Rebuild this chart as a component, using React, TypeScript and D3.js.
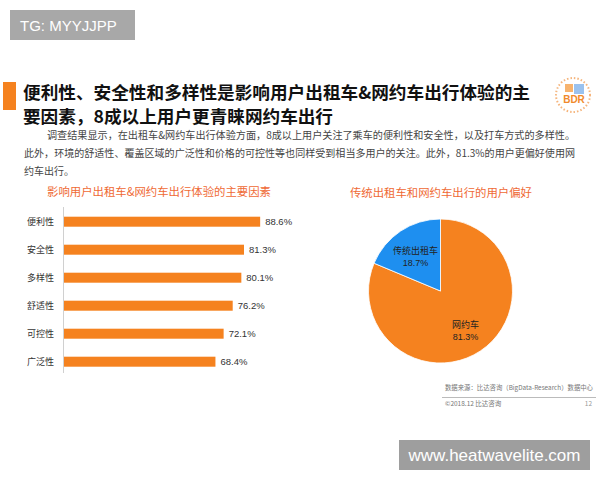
import React from "react";
import * as d3 from "d3";

const barCategories = ["便利性", "安全性", "多样性", "舒适性", "可控性", "广泛性"];
const barValues = [88.6, 81.3, 80.1, 76.2, 72.1, 68.4];
const pieCategories = ["网约车", "传统出租车"];
const pieValues = [81.3, 18.7];

const titleLines = [
  "便利性、安全性和多样性是影响用户出租车&网约车出行体验的主",
  "要因素，8成以上用户更青睐网约车出行",
];
const paraLines = [
  "调查结果显示，在出租车&网约车出行体验方面，8成以上用户关注了乘车的便利性和安全性，以及打车方式的多样性。",
  "此外，环境的舒适性、覆盖区域的广泛性和价格的可控性等也同样受到相当多用户的关注。此外，81.3%的用户更偏好使用网",
  "约车出行。",
];
const barTitle = "影响用户出租车&网约车出行体验的主要因素";
const pieTitle = "传统出租车和网约车出行的用户偏好";

const ORANGE = "#F5821F";
const BLUE = "#1E8FF0";
const TITLE_ORANGE = "#EF6A35";
const FONT = "'Noto Sans CJK SC', 'Noto Sans', sans-serif";

export default function App() {
  const x = d3.scaleLinear().domain([0, 100]).range([64, 285.4]);
  const y = d3.scalePoint<string>().domain(barCategories).range([221.7, 361.7]);
  const barH = 10;

  const pieData = pieCategories.map((c, i) => ({ name: c, value: pieValues[i] }));
  const pie = d3.pie<{ name: string; value: number }>().sort(null).value((d) => d.value);
  const arcs = pie(pieData);
  const arc = d3.arc<d3.PieArcDatum<{ name: string; value: number }>>().innerRadius(0).outerRadius(72);
  const labelArc = d3.arc<d3.PieArcDatum<{ name: string; value: number }>>().innerRadius(45).outerRadius(45);
  const pieColors = [ORANGE, BLUE];
  const cx = 440.5, cy = 291;

  return (
    <svg width={600} height={480} style={{ position: "absolute", left: 0, top: 0, background: "#fff" }} fontFamily={FONT}>
      <rect x={0} y={0} width={600} height={480} fill="#fff" />
      {/* watermark top */}
      <rect x={10} y={10} width={125} height={30} fill="#a8a8a8" />
      <text x={20} y={30.5} fontSize={15} fill="#fff" fontFamily="'Liberation Sans', Arial, sans-serif">TG: MYYJJPP</text>

      {/* title */}
      <rect x={3} y={82} width={13} height={28} fill={ORANGE} />
      <text x={23} y={99} fontSize={17.5} fontWeight="bold" fill="#111" textLength={507} lengthAdjust="spacingAndGlyphs">{titleLines[0]}</text>
      <text x={23} y={122.5} fontSize={17.5} fontWeight="bold" fill="#111" textLength={310} lengthAdjust="spacingAndGlyphs">{titleLines[1]}</text>

      {/* logo */}
      <g>
        <circle cx={573} cy={95} r={17} fill="none" stroke="#F3A35C" strokeWidth={2} strokeDasharray="1.5 2" opacity={0.8} />
        <rect x={565} y={84} width={8} height={8} fill="#F5A04A" opacity={0.8} />
        <rect x={574} y={84} width={10} height={10} fill="#6FA8E8" opacity={0.7} />
        <text x={574} y={103} fontSize={10} fontWeight="bold" fill="#F08A2C" textAnchor="middle" fontFamily="'Liberation Sans', sans-serif">BDR</text>
      </g>

      {/* paragraph */}
      <text x={47} y={139} fontSize={10} fill="#444" textLength={528} lengthAdjust="spacingAndGlyphs">{paraLines[0]}</text>
      <text x={24} y={157} fontSize={10} fill="#444" textLength={551} lengthAdjust="spacingAndGlyphs">{paraLines[1]}</text>
      <text x={24} y={175} fontSize={10} fill="#444">{paraLines[2]}</text>

      {/* bar chart */}
      <text x={47} y={196} fontSize={11.5} fill={TITLE_ORANGE} textLength={224} lengthAdjust="spacingAndGlyphs">{barTitle}</text>
      <line x1={63.5} x2={63.5} y1={207} y2={373} stroke="#d0d0d0" strokeWidth={1} />
      {barCategories.map((c, i) => (
        <g key={c}>
          <text x={54} y={(y(c) as number) + 3.3} fontSize={9} fill="#333" textAnchor="end">{c}</text>
          <rect x={x(0)} y={(y(c) as number) - barH / 2} width={x(barValues[i]) - x(0)} height={barH} fill={ORANGE} />
          <text x={x(barValues[i]) + 5} y={(y(c) as number) + 3.5} fontSize={9.5} fill="#333" fontFamily="'Liberation Sans', Arial, sans-serif">{barValues[i].toFixed(1)}%</text>
        </g>
      ))}

      {/* pie chart */}
      <text x={350} y={197} fontSize={11.4} fill={TITLE_ORANGE} textLength={182} lengthAdjust="spacingAndGlyphs">{pieTitle}</text>
      <g transform={`translate(${cx},${cy})`}>
        {arcs.map((a, i) => (
          <path key={a.data.name} d={arc(a) as string} fill={pieColors[i]} stroke="#fff" strokeWidth={0.8} />
        ))}
        {arcs.map((a) => {
          const [lx, ly] = labelArc.centroid(a);
          return (
            <text key={a.data.name} x={lx} y={ly} fontSize={9} fill="#222" textAnchor="middle">
              <tspan x={lx} dy={0}>{a.data.name}</tspan>
              <tspan x={lx} dy={12} fontFamily="'Liberation Sans', Arial, sans-serif">{a.data.value.toFixed(1)}%</tspan>
            </text>
          );
        })}
      </g>

      {/* footer */}
      <text x={445} y={390} fontSize={6.5} fill="#777" textLength={148} lengthAdjust="spacingAndGlyphs">数据来源：比达咨询（BigData-Research）数据中心</text>
      <line x1={442} x2={596} y1={397.5} y2={397.5} stroke="#bbb" strokeWidth={1} />
      <text x={445} y={406} fontSize={6.5} fill="#777">©2018.12 比达咨询</text>
      <text x={592} y={406} fontSize={6.5} fill="#999" textAnchor="end">12</text>

      {/* watermark bottom */}
      <rect x={399} y={440} width={191} height={30} fill="#9e9e9e" />
      <text x={494.5} y={461} fontSize={17} fill="#fff" textAnchor="middle" fontFamily="'Liberation Sans', Arial, sans-serif">www.heatwavelite.com</text>
    </svg>
  );
}
